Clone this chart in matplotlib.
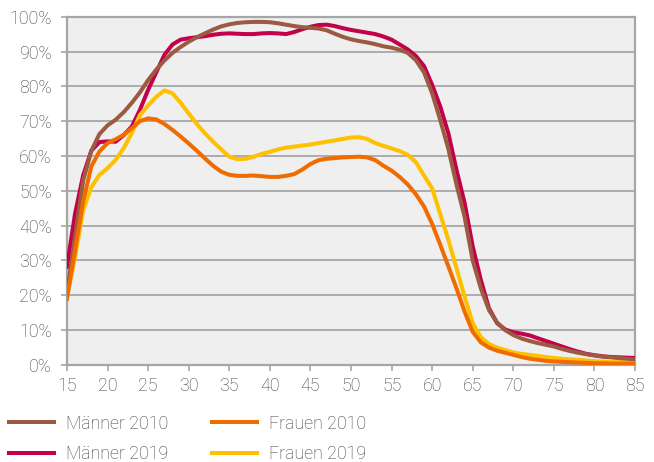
import numpy as np
import matplotlib
matplotlib.use("Agg")
import matplotlib.pyplot as plt
from matplotlib.ticker import MultipleLocator, FuncFormatter

plt.rcParams['font.family'] = ['Roboto', 'DejaVu Sans']

# Erwerbsquote nach Alter (15 bis 85 Jahre), in Prozent
ages = list(range(15, 86))

maenner_2010 = [20.5, 37, 53, 61.5, 66.3, 68.8, 70.4, 72.6, 75.3, 78.3,
                81.8, 84.8, 87.4, 89.6, 91.3, 92.8, 94.1, 95.2, 96.3, 97.2,
                97.8, 98.2, 98.4, 98.5, 98.5, 98.4, 98.1, 97.7, 97.3, 97.0,
                96.8, 96.6, 96.1, 95.1, 94.2, 93.5, 93.0, 92.6, 92.1, 91.5,
                91.1, 90.5, 89.6, 87.5, 84.0, 78.0, 70.3, 62.0, 51.8, 42.5,
                30.0, 22.0, 15.8, 12.2, 10.0, 8.6, 7.6, 6.9, 6.3, 5.8,
                5.3, 4.6, 4.0, 3.5, 3.1, 2.7, 2.4, 2.2, 2.0, 1.8, 1.6]

maenner_2019 = [28.2, 43.5, 54.5, 61.5, 64.0, 64.2, 64.1, 66.0, 68.5, 73.3,
                79.0, 84.0, 89.0, 92.0, 93.4, 93.8, 94.1, 94.4, 94.8, 95.1,
                95.2, 95.1, 95.0, 95.0, 95.2, 95.3, 95.2, 95.0, 95.6, 96.4,
                97.1, 97.6, 97.7, 97.3, 96.7, 96.2, 95.8, 95.4, 95.0, 94.3,
                93.4, 92.0, 90.6, 88.7, 85.8, 80.4, 74.2, 66.5, 56.0, 46.5,
                34.0, 24.4, 16.3, 12.0, 10.2, 9.4, 9.0, 8.5, 7.7, 6.9,
                6.1, 5.3, 4.5, 3.8, 3.2, 2.8, 2.5, 2.3, 2.2, 2.1, 2.0]

frauen_2010 = [19.0, 33.0, 47.0, 57.0, 61.3, 63.7, 64.8, 66.1, 68.0, 70.0,
               70.8, 70.5, 69.2, 67.5, 65.6, 63.6, 61.5, 59.3, 57.2, 55.5,
               54.6, 54.3, 54.3, 54.4, 54.2, 54.0, 54.0, 54.3, 54.8, 56.1,
               57.7, 58.8, 59.2, 59.4, 59.6, 59.7, 59.8, 59.6, 58.8, 57.2,
               55.8, 54.0, 51.8, 49.0, 45.5, 40.5, 34.5, 28.3, 22.0, 15.3,
               9.5, 6.5, 5.0, 4.1, 3.5, 2.9, 2.3, 1.8, 1.5, 1.2,
               1.0, 0.9, 0.8, 0.7, 0.6, 0.5, 0.5, 0.4, 0.4, 0.4, 0.4]

frauen_2019 = [19.5, 31.0, 44.5, 51.0, 54.6, 56.5, 58.9, 62.3, 66.6, 71.8,
               74.5, 77.0, 78.8, 78.0, 75.3, 72.2, 69.2, 66.5, 64.1, 61.9,
               59.8, 59.1, 59.2, 59.8, 60.6, 61.2, 61.9, 62.4, 62.7, 63.0,
               63.3, 63.7, 64.1, 64.5, 64.9, 65.3, 65.4, 64.9, 63.7, 62.9,
               62.2, 61.4, 60.3, 58.2, 54.4, 50.7, 43.3, 35.9, 27.8, 19.6,
               12.0, 8.0, 6.0, 5.0, 4.3, 3.6, 3.2, 2.9, 2.6, 2.3,
               2.0, 1.8, 1.6, 1.5, 1.3, 1.1, 1.0, 0.9, 0.9, 0.8, 0.8]

c_m2010 = "#9b5a41"
c_m2019 = "#c3004a"
c_f2010 = "#ef6c00"
c_f2019 = "#ffc000"
grid_c = "#a6a6a6"
text_c = "#404040"
fs = 12.8

fig = plt.figure(figsize=(6.54, 4.62), dpi=100)
ax = fig.add_axes([0.1024, 0.21, 0.8686, 0.7539])
ax.set_facecolor("#efefef")

lw = 2.9
l_m2019, = ax.plot(ages, maenner_2019, color=c_m2019, lw=lw, label="Männer 2019", zorder=3)
l_f2019, = ax.plot(ages, frauen_2019, color=c_f2019, lw=lw, label="Frauen 2019", zorder=3)
l_m2010, = ax.plot(ages, maenner_2010, color=c_m2010, lw=lw, label="Männer 2010", zorder=4)
l_f2010, = ax.plot(ages, frauen_2010, color=c_f2010, lw=lw, label="Frauen 2010", zorder=4)

ax.set_xlim(15, 85)
ax.set_ylim(0, 100)
ax.xaxis.set_major_locator(MultipleLocator(5))
ax.yaxis.set_major_locator(MultipleLocator(10))
ax.yaxis.set_major_formatter(FuncFormatter(lambda v, p: f"{int(v)}%"))

ax.grid(axis="y", color=grid_c, lw=1.3)
ax.set_axisbelow(True)
for s in ax.spines.values():
    s.set_color(grid_c)
    s.set_linewidth(1.6)

ax.tick_params(axis="both", colors=grid_c, length=4, width=1.2, direction="out",
               labelcolor=text_c, labelsize=fs)
ax.tick_params(axis="x", pad=5)
ax.tick_params(axis="y", pad=7)
for lab in ax.get_xticklabels() + ax.get_yticklabels():
    lab.set_fontweight("light")

leg = fig.legend(handles=[l_m2010, l_m2019, l_f2010, l_f2019],
                 loc="upper left", bbox_to_anchor=(-0.011, 0.137), ncol=2,
                 frameon=False, handlelength=2.53,
                 handletextpad=0.67, columnspacing=2.5, labelspacing=0.68,
                 prop={"weight": "light", "size": fs})
for t in leg.get_texts():
    t.set_color(text_c)

fig.savefig("out.png", dpi=100)
